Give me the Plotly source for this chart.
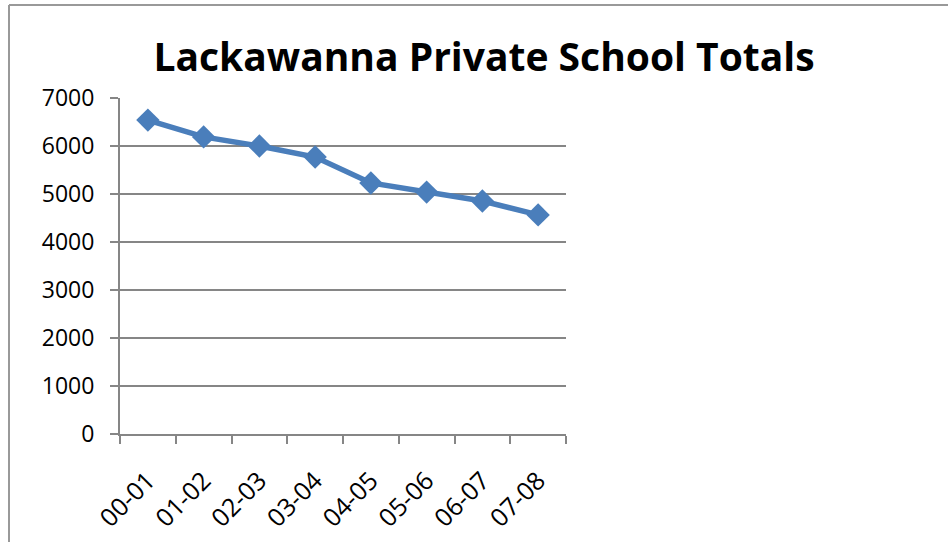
import plotly.graph_objects as go

categories = ["00-01", "01-02", "02-03", "03-04", "04-05", "05-06", "06-07", "07-08"]
totals = [6540, 6190, 6000, 5770, 5230, 5040, 4855, 4565]
y_ticks = [0, 1000, 2000, 3000, 4000, 5000, 6000, 7000]
title_text = "Lackawanna Private School Totals"

W, H = 948, 542
L, R, T, B = 120, 566, 98, 434

fig = go.Figure()
fig.add_trace(go.Scatter(
    x=categories, y=totals, mode="lines+markers",
    line=dict(color="#4A7EBB", width=5.5),
    marker=dict(symbol="diamond", size=18, color="#4A7EBB"),
    showlegend=False,
))

def px_x(p):
    return (p - L) / (R - L)

def px_y(p):
    return (B - p) / (B - T)

axis_grey = "#868686"
fig.update_layout(
    width=W, height=H,
    margin=dict(l=L, r=W - R, t=T, b=H - B, autoexpand=False),
    paper_bgcolor="white", plot_bgcolor="white",
    font=dict(family="Open Sans, sans-serif", size=23, color="black"),
    title=dict(text="<b>" + title_text + "</b>", x=484 / W, xanchor="center",
               y=1 - 57 / H, yanchor="middle", yref="container",
               font=dict(family="Open Sans, sans-serif", size=39, color="black")),
    xaxis=dict(type="category", range=[-0.5, 7.5], showgrid=False,
               showline=True, linecolor=axis_grey, linewidth=2,
               ticks="outside", ticklen=8, tickwidth=2, tickcolor=axis_grey,
               tickson="boundaries", tickangle=-45, zeroline=False,
               ticklabelstandoff=20, tickfont=dict(size=25)),
    yaxis=dict(range=[0, 7000], tickvals=y_ticks, showgrid=True,
               gridcolor=axis_grey, gridwidth=1.5,
               showline=True, linecolor=axis_grey, linewidth=2,
               ticks="outside", ticklen=8, tickwidth=2, tickcolor=axis_grey,
               zeroline=False, ticklabelstandoff=11),
    shapes=[
        dict(type="line", xref="paper", yref="paper",
             x0=px_x(9), x1=px_x(9), y0=px_y(5), y1=px_y(H + 5),
             line=dict(color="#999999", width=2)),
        dict(type="line", xref="paper", yref="paper",
             x0=px_x(9), x1=px_x(W + 5), y0=px_y(5), y1=px_y(5),
             line=dict(color="#999999", width=2)),
    ],
)

fig.write_html("out.html", config={"displayModeBar": False},
               post_script="document.body.style.margin='0';")
